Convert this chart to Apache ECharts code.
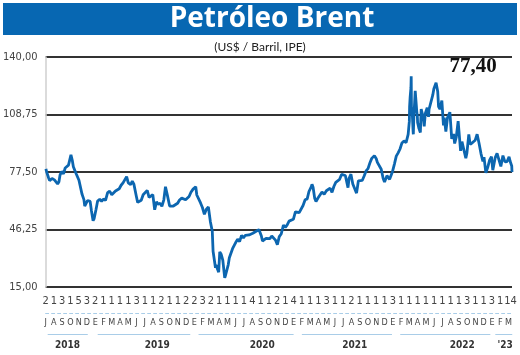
<!DOCTYPE html>
<html><head><meta charset="utf-8">
<script src="https://cdn.jsdelivr.net/npm/echarts@6/dist/echarts.min.js"></script>
<style>html,body{margin:0;padding:0;background:#fff}#c{width:520px;height:355px}</style>
</head><body><div id="c"></div>
<script>
const dates = [
'2018-07-02','2018-07-05','2018-07-09','2018-07-12','2018-07-16','2018-07-20','2018-07-25','2018-07-30','2018-08-03','2018-08-08','2018-08-15','2018-08-20','2018-08-24','2018-08-30','2018-09-06','2018-09-12','2018-09-18','2018-09-24','2018-10-03','2018-10-08','2018-10-12','2018-10-17','2018-10-23','2018-10-29','2018-11-02','2018-11-07','2018-11-13','2018-11-20','2018-11-23','2018-11-28','2018-12-03','2018-12-07','2018-12-13','2018-12-18','2018-12-24','2018-12-28',
'2019-01-04','2019-01-10','2019-01-18','2019-01-25','2019-02-01','2019-02-08','2019-02-15','2019-02-22','2019-03-01','2019-03-08','2019-03-15','2019-03-22','2019-03-29','2019-04-05','2019-04-12','2019-04-18','2019-04-25','2019-05-01','2019-05-10','2019-05-16','2019-05-22','2019-05-31','2019-06-05','2019-06-12','2019-06-18','2019-06-25','2019-07-01','2019-07-10','2019-07-17','2019-07-24','2019-07-31','2019-08-07','2019-08-14','2019-08-20','2019-08-28','2019-09-03','2019-09-10','2019-09-16','2019-09-23','2019-10-01','2019-10-08','2019-10-15','2019-10-22','2019-10-31','2019-11-07','2019-11-15','2019-11-22','2019-11-29','2019-12-05','2019-12-12','2019-12-19','2019-12-27',
'2020-01-06','2020-01-10','2020-01-17','2020-01-24','2020-01-31','2020-02-07','2020-02-14','2020-02-21','2020-02-28','2020-03-06','2020-03-09','2020-03-13','2020-03-18','2020-03-20','2020-03-25','2020-03-30','2020-04-03','2020-04-08','2020-04-14','2020-04-21','2020-04-24','2020-04-28','2020-05-04','2020-05-08','2020-05-14','2020-05-20','2020-05-27','2020-06-03','2020-06-08','2020-06-15','2020-06-22','2020-06-29','2020-07-06','2020-07-13','2020-07-20','2020-07-27','2020-08-03','2020-08-10','2020-08-17','2020-08-26','2020-09-04','2020-09-08','2020-09-14','2020-09-21','2020-09-28','2020-10-05','2020-10-12','2020-10-19','2020-10-26','2020-11-02','2020-11-09','2020-11-16','2020-11-24','2020-12-01','2020-12-08','2020-12-15','2020-12-22','2020-12-31',
'2021-01-08','2021-01-15','2021-01-22','2021-01-29','2021-02-05','2021-02-12','2021-02-19','2021-02-25','2021-03-05','2021-03-08','2021-03-12','2021-03-18','2021-03-23','2021-03-31','2021-04-07','2021-04-14','2021-04-22','2021-04-30','2021-05-07','2021-05-14','2021-05-21','2021-05-28','2021-06-04','2021-06-11','2021-06-18','2021-06-25','2021-07-02','2021-07-09','2021-07-19','2021-07-23','2021-07-30','2021-08-06','2021-08-13','2021-08-20','2021-08-27','2021-09-03','2021-09-10','2021-09-17','2021-09-24','2021-10-01','2021-10-08','2021-10-15','2021-10-25','2021-11-01','2021-11-05','2021-11-12','2021-11-19','2021-11-26','2021-12-01','2021-12-10','2021-12-20','2021-12-31',
'2022-01-07','2022-01-14','2022-01-21','2022-01-28','2022-02-04','2022-02-11','2022-02-18','2022-02-25','2022-03-01','2022-03-02','2022-03-04','2022-03-07','2022-03-08','2022-03-09','2022-03-10','2022-03-11','2022-03-15','2022-03-16','2022-03-18','2022-03-21','2022-03-23','2022-03-25','2022-03-29','2022-03-31','2022-04-01','2022-04-06','2022-04-11','2022-04-14','2022-04-22','2022-04-25','2022-04-29','2022-05-06','2022-05-11','2022-05-13','2022-05-20','2022-05-27','2022-05-31','2022-06-08','2022-06-14','2022-06-17','2022-06-22','2022-06-29','2022-07-05','2022-07-08','2022-07-14','2022-07-20','2022-07-29','2022-08-05','2022-08-12','2022-08-16','2022-08-22','2022-08-29','2022-09-07','2022-09-12','2022-09-16','2022-09-26','2022-09-30','2022-10-07','2022-10-12','2022-10-21','2022-10-31','2022-11-07','2022-11-14','2022-11-21','2022-11-28','2022-12-02','2022-12-09','2022-12-16','2022-12-23','2022-12-30',
'2023-01-04','2023-01-06','2023-01-13','2023-01-20','2023-01-27','2023-02-03','2023-02-10','2023-02-17','2023-02-24','2023-03-03','2023-03-07','2023-03-10','2023-03-13','2023-03-14'
];
const prices = [
79.2,77.5,78.1,74.4,72.8,73.1,74.0,74.9,73.2,72.3,71.0,72.2,75.8,77.8,76.5,79.7,79.0,81.2,86.8,83.9,80.4,80.1,76.4,77.3,73.0,72.1,65.5,62.5,59.0,59.5,62.0,61.7,61.5,56.3,51.0,52.2,
57.1,61.7,62.7,61.6,62.8,62.1,66.3,67.1,65.1,65.7,67.2,67.0,68.4,70.3,71.6,72.0,75.0,71.6,70.6,72.6,70.9,64.5,61.0,60.5,62.1,65.1,65.1,67.5,63.7,63.2,65.2,57.0,61.3,60.0,60.5,58.8,62.4,69.5,64.8,59.0,58.6,59.0,59.7,60.5,62.3,63.3,63.4,62.4,63.4,64.2,66.5,68.2,
69.5,65.0,64.8,60.7,58.2,54.5,57.3,58.5,50.5,45.3,34.4,33.9,25.5,27.0,27.4,23.0,34.1,32.8,29.6,20.0,21.4,21.0,27.2,30.9,31.1,35.8,35.3,39.8,41.0,39.7,43.1,41.7,43.1,42.7,43.3,43.4,44.2,44.9,45.4,46.2,42.7,40.0,39.8,41.4,42.4,41.3,42.7,42.6,40.5,38.0,42.4,43.8,48.6,47.4,48.8,50.8,50.1,51.8,
55.9,55.1,55.4,55.0,59.3,62.4,62.9,66.9,69.4,70.8,69.2,63.3,61.5,63.5,62.7,66.6,65.4,67.3,68.3,68.7,66.4,69.6,71.9,72.7,73.5,76.2,76.2,75.6,69.0,74.1,76.3,71.0,70.8,66.0,72.7,72.6,72.9,75.3,78.1,79.3,82.4,84.9,86.4,84.7,82.7,82.2,79.0,74.0,72.0,75.5,73.5,77.8,
81.8,86.1,87.9,90.0,93.3,94.4,93.5,97.9,105.0,112.9,118.1,123.2,129.5,111.1,109.3,112.7,99.9,98.0,107.9,115.6,121.6,120.7,110.2,107.9,104.4,101.1,99.0,111.7,106.7,102.3,109.3,112.4,107.5,111.6,112.6,119.4,122.8,126.0,121.2,113.1,111.7,116.3,102.8,107.0,99.5,106.9,110.0,95.5,98.2,93.0,96.5,105.1,89.0,94.0,91.4,85.0,87.9,97.9,92.5,93.5,94.8,98.0,93.1,87.5,83.2,85.6,77.0,80.0,83.9,85.9,
78.5,79.0,85.3,87.6,86.7,80.5,86.4,83.0,83.2,85.8,83.3,82.8,80.8,77.4
];
const dayLabels = ['2','1','3','1','5','3',
 '2','1','1','1','1','3','1','1','2','1','1','2',
 '2','3','2','1','1','1','1','4','1','1','2','1',
 '4','1','1','1','3','1','1','2','1','1','1','1',
 '3','1','1','1','1','1','1','1','1','3','1','1',
 '3','1','14'];
const monthLabels = ['J','A','S','O','N','D',
 'E','F','M','A','M','J','J','A','S','O','N','D',
 'E','F','M','A','M','J','J','A','S','O','N','D',
 'E','F','M','A','M','J','J','A','S','O','N','D',
 'E','F','M','A','M','J','J','A','S','O','N','D',
 'E','F','M'];
const yearLabels = ['2018','2019','2020','2021','2022',"'23"];
const yearLabelPos = [2.66, 13.5, 26.2, 37.4, 50.4, 55.6];
const yearSpans = [[0.25,5.1],[6.3,17.5],[18.5,30],[31,41.9],[42.9,53.8],[54.4,56.45]];
const titleText = 'Petróleo Brent';
const subtitleText = '(US$ / Barril, IPE)';

function monthIndex(s){
  const p = s.split('-').map(Number);
  const dim = new Date(p[0], p[1], 0).getDate();
  return (p[0]-2018)*12 + (p[1]-7) + (p[2]-1)/dim;
}
const fmt = v => v.toFixed(2).replace('.', ',');
const seriesData = dates.map((d,i) => [monthIndex(d), prices[i]]);
const XMAX = monthIndex('2023-03-14');
const monthPos = monthLabels.map((_,i)=>i);
const dayPos = monthPos.map(i => i === monthPos.length-1 ? i+0.25 : i);
const COND = '"DejaVu Sans Condensed", "DejaVu Sans", sans-serif';

const chart = echarts.init(document.getElementById('c'), null, {renderer:'canvas'});
const baseX = {type:'value', min:0, max:XMAX, gridIndex:0, position:'bottom',
  splitLine:{show:false}, axisTick:{show:false}};
const lbl = {showMinLabel:true, showMaxLabel:true, hideOverlap:false};
chart.setOption({
  animation:false,
  grid:{left:45, right:8, top:57, bottom:68},
  xAxis:[
    Object.assign({}, baseX, {axisLine:{show:false},
      axisLabel:Object.assign({customValues:dayPos, formatter:v=>dayLabels[Math.round(v)], margin:9,
        fontSize:11, fontFamily:COND, color:'#444'}, lbl)}),
    Object.assign({}, baseX, {offset:26,
      axisLine:{show:true, lineStyle:{color:'#a9cde8', type:[3,3], width:1}},
      axisLabel:Object.assign({customValues:monthPos, formatter:v=>monthLabels[Math.round(v)], margin:5,
        fontSize:9, fontFamily:COND, color:'#444'}, lbl)}),
    Object.assign({}, baseX, {offset:48, axisLine:{show:false},
      axisLabel:Object.assign({customValues:yearLabelPos, formatter:(v)=>yearLabels[yearLabelPos.indexOf(v)], margin:5,
        fontSize:10, fontWeight:'bold', fontFamily:COND, color:'#333'}, lbl)})
  ],
  yAxis:{type:'value', min:15, max:140, interval:31.25,
    axisLine:{show:true, lineStyle:{color:'#cfcfcf', width:1.5}},
    axisTick:{show:false},
    splitLine:{show:true, lineStyle:{color:'#333', width:1.8}},
    axisLabel:{formatter:fmt, margin:8, fontSize:11, fontFamily:COND, color:'#444'}},
  series:[{type:'line', data:seriesData, showSymbol:false, symbol:'none',
    lineStyle:{color:'#0c66b0', width:2.8}, z:5}]
});

const g = [
  {type:'rect', shape:{x:3,y:3,width:514,height:32}, style:{fill:'#0767b2'}},
  {type:'text', style:{text:titleText, x:272, y:19.5, textAlign:'center', textVerticalAlign:'middle',
    font:'bold 28px "Open Sans", Lato, sans-serif', fill:'#fff'}},
  {type:'text', style:{text:subtitleText, x:260, y:47, textAlign:'center', textVerticalAlign:'middle',
    font:'12px Lato, "Open Sans", sans-serif', fill:'#222'}},
  {type:'text', style:{text:fmt(prices[prices.length-1]), x:473, y:67, textAlign:'center', textVerticalAlign:'middle',
    font:'bold 21px "Liberation Serif", serif', fill:'#111'}}
];
yearSpans.forEach(s=>{
  const a = chart.convertToPixel({xAxisIndex:0}, s[0]);
  const b = chart.convertToPixel({xAxisIndex:0}, s[1]);
  g.push({type:'line', shape:{x1:a,y1:334.5,x2:b,y2:334.5}, style:{stroke:'#a9cde8', lineWidth:1}});
});
chart.setOption({graphic:g});
</script></body></html>
